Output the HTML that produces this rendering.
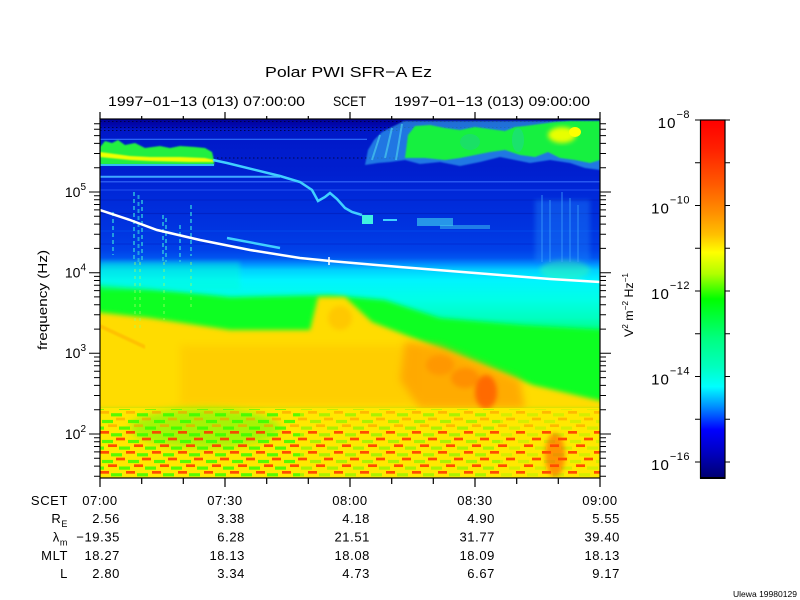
<!DOCTYPE html>
<html><head><meta charset="utf-8"><style>
html,body{margin:0;padding:0;background:#fff;}
svg{display:block;}
text{font-family:"Liberation Sans",sans-serif;fill:#000;}
</style></head><body>
<svg width="800" height="600" viewBox="0 0 800 600" xmlns="http://www.w3.org/2000/svg">
<defs>
<linearGradient id="base" gradientUnits="userSpaceOnUse" x1="0" y1="119" x2="0" y2="478">
<stop offset="0" stop-color="#000098"/>
<stop offset="0.0195" stop-color="#0008b0"/>
<stop offset="0.0306" stop-color="#0018c8"/>
<stop offset="0.156" stop-color="#0020d0"/>
<stop offset="0.203" stop-color="#0028d8"/>
<stop offset="0.309" stop-color="#0034e0"/>
<stop offset="0.365" stop-color="#0040e8"/>
<stop offset="0.387" stop-color="#0055f0"/>
<stop offset="0.404" stop-color="#0090ff"/>
<stop offset="0.421" stop-color="#00d0ff"/>
<stop offset="0.448" stop-color="#00f4ff"/>
<stop offset="0.504" stop-color="#00ffe6"/>
<stop offset="0.554" stop-color="#00ffc0"/>
<stop offset="0.588" stop-color="#00ff88"/>
<stop offset="0.630" stop-color="#00ff48"/>
<stop offset="0.699" stop-color="#30ff10"/>
<stop offset="0.755" stop-color="#90ff00"/>
<stop offset="0.786" stop-color="#d8ff00"/>
<stop offset="0.802" stop-color="#ffe800"/>
<stop offset="1" stop-color="#ffe400"/>
</linearGradient>
<linearGradient id="cbar" x1="0" y1="0" x2="0" y2="1">
<stop offset="0" stop-color="#ff0000"/>
<stop offset="0.08" stop-color="#ff2000"/>
<stop offset="0.18" stop-color="#ff5a00"/>
<stop offset="0.26" stop-color="#ff9000"/>
<stop offset="0.32" stop-color="#ffc000"/>
<stop offset="0.37" stop-color="#ffff00"/>
<stop offset="0.43" stop-color="#b0ff00"/>
<stop offset="0.50" stop-color="#00ff00"/>
<stop offset="0.61" stop-color="#00ff80"/>
<stop offset="0.69" stop-color="#00ffc0"/>
<stop offset="0.745" stop-color="#00ffff"/>
<stop offset="0.80" stop-color="#0090ff"/>
<stop offset="0.865" stop-color="#0000ff"/>
<stop offset="0.93" stop-color="#0000c0"/>
<stop offset="1" stop-color="#000070"/>
</linearGradient>
<filter id="b1" x="-20%" y="-20%" width="140%" height="140%"><feGaussianBlur stdDeviation="0.9"/></filter>
<filter id="b2" x="-20%" y="-20%" width="140%" height="140%"><feGaussianBlur stdDeviation="2.5"/></filter>
<filter id="b4" x="-30%" y="-30%" width="160%" height="160%"><feGaussianBlur stdDeviation="4"/></filter>
<clipPath id="pc"><rect x="100" y="119" width="500" height="359"/></clipPath>
<pattern id="pr" patternUnits="userSpaceOnUse" x="100" y="411" width="26" height="20">
<rect x="0" y="0" width="9" height="2.7" fill="#ff3000"/>
<rect x="16" y="6.67" width="9" height="2.7" fill="#ff3000"/>
<rect x="8" y="13.33" width="9" height="2.7" fill="#ff3000"/>
</pattern>
<pattern id="po" patternUnits="userSpaceOnUse" x="100" y="411" width="26" height="20">
<rect x="0" y="0" width="9" height="2.7" fill="#ff9000"/>
<rect x="16" y="6.67" width="9" height="2.7" fill="#ff9000"/>
<rect x="8" y="13.33" width="9" height="2.7" fill="#ff9000"/>
</pattern>
<pattern id="pg" patternUnits="userSpaceOnUse" x="100" y="411" width="26" height="20">
<rect x="11" y="2.2" width="11" height="3.2" fill="#30ff00"/>
<rect x="2" y="8.9" width="11" height="3.2" fill="#30ff00"/>
<rect x="19" y="15.5" width="7" height="3.2" fill="#30ff00"/>
<rect x="0" y="15.5" width="4" height="3.2" fill="#30ff00"/>
</pattern>
</defs>

<rect width="800" height="600" fill="#fff"/>

<g clip-path="url(#pc)">
<rect x="100" y="119" width="500" height="359" fill="url(#base)"/>

<g stroke-width="1.2" opacity="0.6">
<line x1="100" y1="200" x2="600" y2="200" stroke="#0020c0"/>
<line x1="100" y1="213.5" x2="600" y2="213.5" stroke="#001cb8"/>
<line x1="100" y1="231" x2="600" y2="231" stroke="#0050f0"/>
<line x1="100" y1="244" x2="600" y2="244" stroke="#0028d0"/>
</g>

<polygon points="95,285 150,289 230,297 330,295 385,300 440,318 520,325 605,330 605,412 95,412" fill="#10ff20" filter="url(#b2)"/>
<rect x="100" y="262" width="140" height="28" fill="#00ffd0" opacity="0.4" filter="url(#b2)"/>
<polygon points="95,312 150,318 230,330 310,330 318,297 345,297 372,322 450,352 533,385 605,402 605,410 95,410" fill="#ffdc00" filter="url(#b2)"/>
<rect x="180" y="345" width="240" height="60" fill="#ffb000" opacity="0.3" filter="url(#b4)"/>
<ellipse cx="340" cy="318" rx="12" ry="12" fill="#ffc000" opacity="0.7" filter="url(#b2)"/>
<polygon points="100,324 145,345 145,349 100,328" fill="#ff9000" opacity="0.35" filter="url(#b1)"/>
<polygon points="405,342 440,346 520,380 525,408 420,408 400,380" fill="#ffa000" opacity="0.8" filter="url(#b4)"/>
<ellipse cx="440" cy="365" rx="14" ry="10" fill="#ff8000" opacity="0.45" filter="url(#b2)"/>
<ellipse cx="465" cy="378" rx="14" ry="10" fill="#ff7000" opacity="0.45" filter="url(#b2)"/>
<ellipse cx="486" cy="392" rx="11" ry="17" fill="#ff4000" opacity="0.6" filter="url(#b2)"/>

<rect x="100" y="408" width="500" height="70" fill="#ffe800"/>
<ellipse cx="205" cy="428" rx="75" ry="20" fill="#50ff10" opacity="0.5" filter="url(#b4)"/>
<rect x="100" y="409" width="200" height="69" fill="url(#pg)" opacity="0.8"/>
<rect x="300" y="409" width="200" height="69" fill="url(#pg)" opacity="0.4"/>
<rect x="500" y="409" width="100" height="69" fill="url(#pg)" opacity="0.2"/>
<rect x="100" y="409" width="500" height="21" fill="url(#po)" opacity="0.55"/>
<rect x="100" y="430" width="500" height="48" fill="url(#pr)" opacity="0.85"/>
<ellipse cx="555" cy="455" rx="10" ry="22" fill="#ff5000" opacity="0.55" filter="url(#b2)"/>

<g stroke="#30c8e0" stroke-width="2" stroke-dasharray="4 3" opacity="0.7">
<line x1="134" y1="192" x2="134" y2="262"/>
<line x1="138.5" y1="195" x2="138.5" y2="262"/>
<line x1="142" y1="200" x2="142" y2="262"/>
<line x1="163" y1="215" x2="163" y2="262"/>
<line x1="166" y1="218" x2="166" y2="262"/>
<line x1="180" y1="225" x2="180" y2="262"/>
<line x1="191" y1="205" x2="191" y2="256"/>
<line x1="113" y1="212" x2="113" y2="255"/>
</g>
<g stroke="#a0ff60" stroke-width="2" stroke-dasharray="3 4" opacity="0.4">
<line x1="135" y1="262" x2="135" y2="330"/>
<line x1="140" y1="262" x2="140" y2="330"/>
<line x1="164" y1="262" x2="164" y2="320"/>
<line x1="191" y1="262" x2="191" y2="310"/>
</g>
<rect x="535" y="200" width="55" height="62" fill="#2090ff" opacity="0.35" filter="url(#b2)"/>
<ellipse cx="565" cy="270" rx="25" ry="10" fill="#40ffa0" opacity="0.4" filter="url(#b2)"/>
<g stroke="#40a8ff" stroke-width="1.5" opacity="0.5">
<line x1="542" y1="195" x2="542" y2="262"/>
<line x1="550" y1="200" x2="550" y2="262"/>
<line x1="562" y1="192" x2="562" y2="262"/>
<line x1="570" y1="198" x2="570" y2="262"/>
<line x1="578" y1="205" x2="578" y2="262"/>
</g>

<g stroke="#000030" stroke-width="1" stroke-dasharray="1.5 2.5" opacity="0.8">
<line x1="100" y1="121.5" x2="600" y2="121.5"/>
<line x1="100" y1="127.5" x2="600" y2="127.5"/>
<line x1="100" y1="130.5" x2="400" y2="130.5"/>
<line x1="213" y1="158" x2="400" y2="158"/>
</g>
<line x1="100" y1="139.3" x2="367" y2="139.3" stroke="#3070ff" stroke-width="1.2"/>
<line x1="100" y1="176.7" x2="280" y2="176.7" stroke="#40a8ff" stroke-width="2"/>
<line x1="100" y1="181.7" x2="600" y2="181.7" stroke="#2858f0" stroke-width="1.5"/>
<line x1="100" y1="190" x2="600" y2="190" stroke="#2050f0" stroke-width="1"/>

<polygon points="100,147 105,141 112,143 118,140 125,145 135,143 145,148 160,146 170,148 180,146 195,147 205,148 212,152 214,160 214,165 100,165" fill="#20f040" filter="url(#b1)"/>
<line x1="100" y1="165" x2="214" y2="165" stroke="#30c0f0" stroke-width="2"/>
<polygon points="100,152 115,154 130,156 150,157 180,157 205,158 214,160 214,162 190,162 150,161 130,160 100,157" fill="#f0ff00" filter="url(#b1)"/>

<polyline points="213,160 227,163 280,176 300,182 312,190 318,201 325,197 330,193 337,199 345,208 352,212 362,215" fill="none" stroke="#40d0ff" stroke-width="2.5"/>
<rect x="362" y="215" width="11" height="9" fill="#40f0e0"/>
<rect x="383" y="219" width="14" height="2" fill="#40d0ff"/>
<rect x="417" y="218" width="36" height="8" fill="#40d8f0" opacity="0.6"/>
<rect x="440" y="225" width="50" height="4" fill="#40c8f0" opacity="0.5"/>
<line x1="227" y1="238" x2="280" y2="248" stroke="#40d0ff" stroke-width="2.5"/>

<polygon points="365,165 368,150 374,140 382,132 392,127 404,121 600,121 600,170 585,168 570,163 550,160 530,163 515,160 500,157 480,162 460,166 440,162 420,164 405,160 390,162 378,163" fill="#30a8f0" opacity="0.65" filter="url(#b1)"/>
<g stroke="#50d8f0" stroke-width="2" opacity="0.6">
<line x1="372" y1="160" x2="380" y2="135"/>
<line x1="385" y1="158" x2="392" y2="128"/>
<line x1="396" y1="160" x2="402" y2="124"/>
</g>
<polygon points="405,158 408,135 415,126 430,125 445,128 460,130 475,127 490,129 505,131 515,127 525,126 540,124 555,122 570,121 600,121 600,160 590,163 575,160 560,158 548,152 535,157 520,155 505,150 490,152 475,155 460,158 445,160 425,158" fill="#18f040" filter="url(#b1)"/>
<ellipse cx="470" cy="142" rx="10" ry="8" fill="#20c8a0" opacity="0.4"/>
<ellipse cx="518" cy="140" rx="6" ry="12" fill="#20d0b0" opacity="0.4"/>
<ellipse cx="562" cy="135" rx="14" ry="8" fill="#e8ff00" filter="url(#b2)"/>
<ellipse cx="575" cy="132" rx="6" ry="5" fill="#ffff00"/>

<polyline points="100,210 130,220 157,230 200,240 250,250 300,258 330,261 400,267 450,271 500,275 550,279 600,282" fill="none" stroke="#fff" stroke-width="2.5"/>
<line x1="329" y1="257" x2="329" y2="265" stroke="#fff" stroke-width="1.5"/>
</g>

<rect x="100" y="119" width="500" height="359" fill="none" stroke="#000" stroke-width="1.2"/>

<path d="M100,478V487M225,478V487M350,478V487M475,478V487M600,478V487
M141.7,478V484M183.3,478V484M266.7,478V484M308.3,478V484M391.7,478V484M433.3,478V484M516.7,478V484M558.3,478V484
M100,112V119M225,112V119M350,112V119M475,112V119M600,112V119
M141.7,116V119M183.3,116V119M266.7,116V119M308.3,116V119M391.7,116V119M433.3,116V119M516.7,116V119M558.3,116V119" stroke="#000" stroke-width="1.2" fill="none"/>

<path d="M89,434H100M89,353.3H100M89,272.7H100M89,192H100
M600,434H611M600,353.3H611M600,272.7H611M600,192H611
M94,476.2H100M94,466.1H100M94,458.3H100M94,451.9H100M94,446.5H100M94,441.8H100M94,437.7H100
M94,409.7H100M94,395.5H100M94,385.4H100M94,377.6H100M94,371.2H100M94,365.8H100M94,361.2H100M94,357H100
M94,329.1H100M94,314.8H100M94,304.8H100M94,296.9H100M94,290.6H100M94,285.2H100M94,280.5H100M94,276.4H100
M94,248.4H100M94,234.2H100M94,224.1H100M94,216.3H100M94,209.9H100M94,204.5H100M94,199.8H100M94,195.7H100
M94,167.7H100M94,153.5H100M94,143.4H100M94,135.6H100M94,129.2H100M94,123.8H100
M600,476.2H606M600,466.1H606M600,458.3H606M600,451.9H606M600,446.5H606M600,441.8H606M600,437.7H606
M600,409.7H606M600,395.5H606M600,385.4H606M600,377.6H606M600,371.2H606M600,365.8H606M600,361.2H606M600,357H606
M600,329.1H606M600,314.8H606M600,304.8H606M600,296.9H606M600,290.6H606M600,285.2H606M600,280.5H606M600,276.4H606
M600,248.4H606M600,234.2H606M600,224.1H606M600,216.3H606M600,209.9H606M600,204.5H606M600,199.8H606M600,195.7H606
M600,167.7H606M600,153.5H606M600,143.4H606M600,135.6H606M600,129.2H606M600,123.8H606" stroke="#000" stroke-width="1" fill="none"/>

<g font-size="14" text-anchor="end">
<text x="86" y="197">10<tspan font-size="10" dy="-7">5</tspan></text>
<text x="86" y="277.5">10<tspan font-size="10" dy="-7">4</tspan></text>
<text x="86" y="358">10<tspan font-size="10" dy="-7">3</tspan></text>
<text x="86" y="439">10<tspan font-size="10" dy="-7">2</tspan></text>
</g>
<text transform="translate(47,300) rotate(-90)" text-anchor="middle" font-size="13" textLength="100" lengthAdjust="spacingAndGlyphs">frequency (Hz)</text>

<text x="348.5" y="77" text-anchor="middle" font-size="15" textLength="167" lengthAdjust="spacingAndGlyphs">Polar PWI SFR−A Ez</text>
<text x="108" y="106" font-size="14" textLength="197" lengthAdjust="spacingAndGlyphs">1997−01−13 (013) 07:00:00</text>
<text x="333" y="106" font-size="14" textLength="33" lengthAdjust="spacingAndGlyphs">SCET</text>
<text x="394" y="106" font-size="14" textLength="196" lengthAdjust="spacingAndGlyphs">1997−01−13 (013) 09:00:00</text>

<g font-size="13" letter-spacing="0.6">
<g text-anchor="end">
<text x="68" y="505">SCET</text>
<text x="68" y="523">R<tspan font-size="9" dy="4">E</tspan></text>
<text x="68" y="541.5">λ<tspan font-size="9" dy="4">m</tspan></text>
<text x="68" y="560">MLT</text>
<text x="68" y="578">L</text>
</g>
<g text-anchor="middle">
<text x="100" y="505">07:00</text>
<text x="225" y="505">07:30</text>
<text x="350" y="505">08:00</text>
<text x="475" y="505">08:30</text>
<text x="600" y="505">09:00</text>
</g>
<g text-anchor="end">
<text x="120" y="523">2.56</text><text x="245" y="523">3.38</text><text x="370" y="523">4.18</text><text x="495" y="523">4.90</text><text x="620" y="523">5.55</text>
<text x="120" y="541.5">−19.35</text><text x="245" y="541.5">6.28</text><text x="370" y="541.5">21.51</text><text x="495" y="541.5">31.77</text><text x="620" y="541.5">39.40</text>
<text x="120" y="560">18.27</text><text x="245" y="560">18.13</text><text x="370" y="560">18.08</text><text x="495" y="560">18.09</text><text x="620" y="560">18.13</text>
<text x="120" y="578">2.80</text><text x="245" y="578">3.34</text><text x="370" y="578">4.73</text><text x="495" y="578">6.67</text><text x="620" y="578">9.17</text>
</g>
</g>

<rect x="700" y="120" width="25" height="358" fill="url(#cbar)"/>
<rect x="700.5" y="120" width="24.5" height="358" fill="none" stroke="#000" stroke-width="1.2"/>
<line x1="700" y1="478" x2="725.5" y2="478" stroke="#000" stroke-width="2"/>
<path d="M695,120H700M695,162.75H700M695,205.5H700M695,248.25H700M695,291H700M695,333.75H700M695,376.5H700M695,419.25H700M695,462H700
M725,120H730M725,162.75H730M725,205.5H730M725,248.25H730M725,291H730M725,333.75H730M725,376.5H730M725,419.25H730M725,462H730" stroke="#000" stroke-width="1" fill="none"/>
<g text-anchor="end">
<text x="690" y="128" font-size="15" letter-spacing="1">10<tspan font-size="11" dy="-10" letter-spacing="0.5">−8</tspan></text>
<text x="690" y="213.5" font-size="15" letter-spacing="1">10<tspan font-size="11" dy="-10" letter-spacing="0.5">−10</tspan></text>
<text x="690" y="299" font-size="15" letter-spacing="1">10<tspan font-size="11" dy="-10" letter-spacing="0.5">−12</tspan></text>
<text x="690" y="384.5" font-size="15" letter-spacing="1">10<tspan font-size="11" dy="-10" letter-spacing="0.5">−14</tspan></text>
<text x="690" y="470" font-size="15" letter-spacing="1">10<tspan font-size="11" dy="-10" letter-spacing="0.5">−16</tspan></text>
</g>
<text transform="translate(633,305) rotate(-90)" text-anchor="middle" font-size="12" textLength="64" lengthAdjust="spacingAndGlyphs">V<tspan font-size="8" dy="-5">2</tspan><tspan dy="5"> m</tspan><tspan font-size="8" dy="-5">−2</tspan><tspan dy="5"> Hz</tspan><tspan font-size="8" dy="-5">−1</tspan></text>

<text x="733" y="597" font-size="8" textLength="64" lengthAdjust="spacingAndGlyphs">Ulewa 19980129</text>
</svg>
</body></html>
